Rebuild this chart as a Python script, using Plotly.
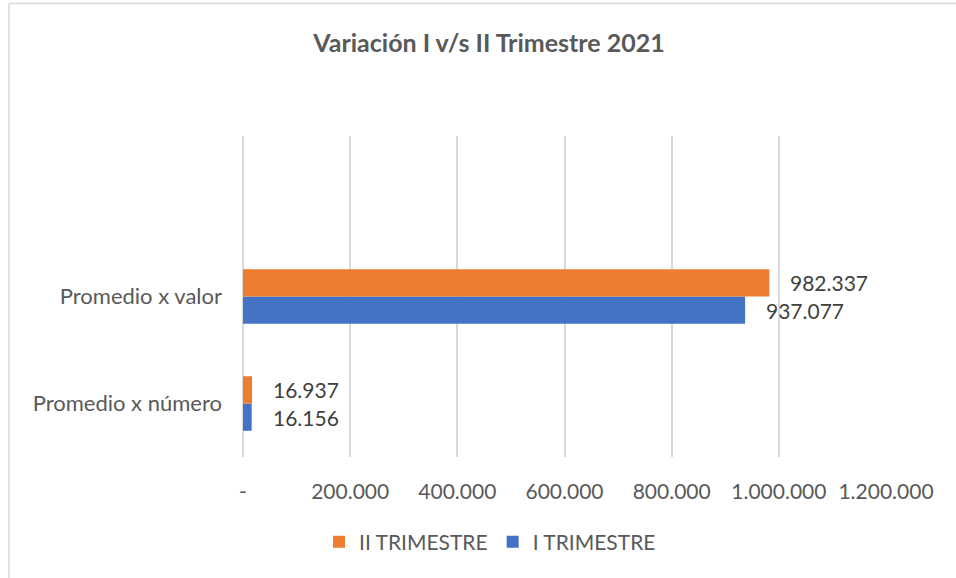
import plotly.graph_objects as go

categories = ["Promedio x número", "Promedio x valor"]
series_names = ["I TRIMESTRE", "II TRIMESTRE"]
i_trimestre = [16156, 937077]
ii_trimestre = [16937, 982337]
tick_values = [0, 200000, 400000, 600000, 800000, 1000000, 1200000]
tick_labels = ["-", "200.000", "400.000", "600.000", "800.000", "1.000.000", "1.200.000"]

colors = {"I TRIMESTRE": "#4472C4", "II TRIMESTRE": "#ED7D31"}
FONT = "Lato, Calibri, sans-serif"

def fmt(v):
    return f"{v:,}".replace(",", ".")

W, H = 956, 578
L, R, T, B = 243, 70, 136, 121
pw, ph = W - L - R, H - T - B

fig = go.Figure()
for name, vals in zip(series_names, [i_trimestre, ii_trimestre]):
    fig.add_trace(go.Bar(
        y=categories, x=vals, name=name, orientation="h",
        marker=dict(color=colors[name], line=dict(width=0)),
        hoverinfo="skip",
    ))

ann = []
for idx, (name, vals) in enumerate(zip(series_names, [i_trimestre, ii_trimestre])):
    for ci, v in enumerate(vals):
        off = (-0.255 / 2) if idx == 0 else (0.255 / 2)
        ann.append(dict(
            x=v, y=ci + off, xref="x", yref="y", text=fmt(v), showarrow=False,
            xanchor="left", yanchor="middle", xshift=19,
            font=dict(family=FONT, size=21, color="#404040"),
        ))

def px_to_paper_x(px):
    return (px - L) / pw

def px_to_paper_y(py):
    return (H - B - py) / ph

shapes = [
    dict(type="line", xref="paper", yref="paper",
         x0=px_to_paper_x(9), x1=px_to_paper_x(9),
         y0=px_to_paper_y(3.5), y1=px_to_paper_y(590),
         line=dict(color="#D9D9D9", width=1.5)),
    dict(type="line", xref="paper", yref="paper",
         x0=px_to_paper_x(9), x1=px_to_paper_x(970),
         y0=px_to_paper_y(3.5), y1=px_to_paper_y(3.5),
         line=dict(color="#D9D9D9", width=1.5)),
]

fig.update_layout(
    width=W, height=H,
    margin=dict(l=L, r=R, t=T, b=B, autoexpand=False),
    paper_bgcolor="white", plot_bgcolor="white",
    barmode="group", bargap=0.49, bargroupgap=0,
    title=dict(text="<b>Variación I v/s II Trimestre 2021</b>",
               x=489 / W, xanchor="center", y=1 - 43 / H, yanchor="middle",
               font=dict(family=FONT, size=25, color="#595959")),
    xaxis=dict(range=[0, 1200000], tickvals=tick_values, ticktext=tick_labels,
               showgrid=True, gridcolor="#D9D9D9", gridwidth=1.5,
               zeroline=True, zerolinecolor="#D9D9D9", zerolinewidth=1.5,
               showline=False, ticks="", ticklabelstandoff=20,
               tickfont=dict(family=FONT, size=21, color="#595959")),
    yaxis=dict(type="category", range=[-0.5, 2.5], showgrid=False, zeroline=False,
               showline=False, ticks="", ticklabelstandoff=20,
               tickfont=dict(family=FONT, size=22, color="#595959")),
    legend=dict(orientation="h", traceorder="reversed",
                x=px_to_paper_x(490), xanchor="center",
                y=px_to_paper_y(542), yanchor="middle",
                font=dict(family=FONT, size=21, color="#595959"),
                itemwidth=30),
    annotations=ann,
    shapes=shapes,
    showlegend=True,
)

fig.write_html("out.html",
               config={"displayModeBar": False},
               post_script="document.body.style.margin='0';document.body.style.overflow='hidden';")
